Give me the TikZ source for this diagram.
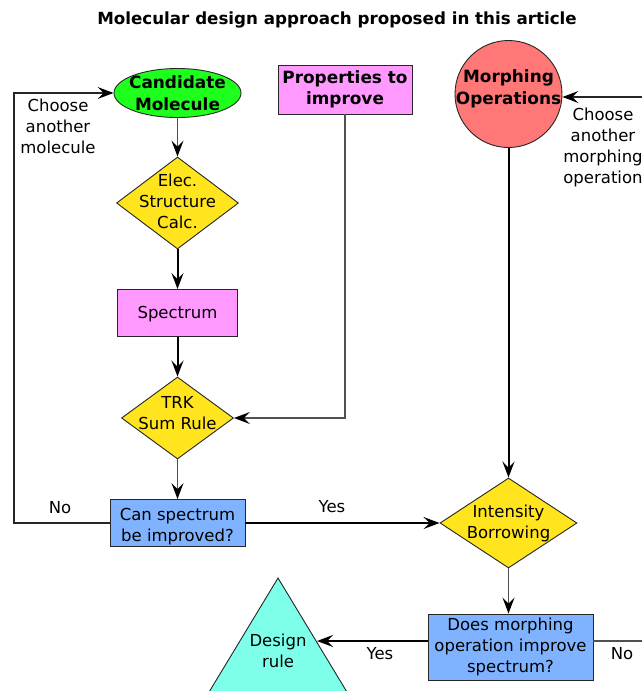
\documentclass[tikz,border=0pt]{standalone}
\usepackage{fontspec}
\setmainfont{DejaVu Sans}
\usetikzlibrary{shapes.geometric,arrows.meta}

\definecolor{candgreen}{RGB}{30,255,30}
\definecolor{calcyellow}{RGB}{255,228,30}
\definecolor{boxpink}{RGB}{255,153,255}
\definecolor{askblue}{RGB}{128,179,255}
\definecolor{morphred}{RGB}{255,119,119}
\definecolor{rulecyan}{RGB}{125,255,234}
\definecolor{wiregray}{RGB}{80,80,80}

\tikzset{
  outline/.style={draw=black!85, line width=0.9pt},
  txt/.style={font=\fontsize{16.5}{21}\selectfont, align=center, inner sep=0pt},
  btxt/.style={font=\fontsize{16.9}{21.5}\selectfont\bfseries, align=center, inner sep=0pt},
  tip/.style={-{Stealth[length=16pt,width=12pt,inset=6pt,color=black]}},
  thinwire/.style={draw=wiregray, line width=1.6pt},
  thickwire/.style={draw=black, line width=2pt},
  rectbox/.style={outline, rectangle, inner sep=0pt},
  diabox/.style={outline, diamond, fill=calcyellow, inner sep=0pt},
}

\begin{document}
\begin{tikzpicture}[x=1pt, y=-1pt]
\useasboundingbox (0,0) rectangle (642,691);

% title
\node[font=\fontsize{16.7}{20}\selectfont\bfseries] (title) at (337,20)
  {Molecular design approach proposed in this article};

% left column
\node[outline, ellipse, fill=candgreen, minimum width=127pt, minimum height=49pt, inner sep=0pt]
  (cand) at (177.5,93) {};
\node[btxt] at (cand) {Candidate\\Molecule};

\node[diabox, minimum width=122pt, minimum height=92pt] (elec) at (177.5,203) {};
\node[txt] at ([yshift=2pt]elec.center) {Elec.\\Structure\\Calc.};

\node[rectbox, fill=boxpink, minimum width=120pt, minimum height=47pt] (spec) at (177.5,313) {};
\node[txt] at ([yshift=-1.5pt]spec.center) {Spectrum};

\node[diabox, minimum width=112pt, minimum height=82pt] (trk) at (177.5,418) {};
\node[txt] at ([yshift=5pt]trk.center) {TRK\\Sum Rule};

\node[rectbox, fill=askblue, minimum width=135pt, minimum height=47pt] (can) at (177.5,523) {};
\node[txt] at ([yshift=-4pt]can.center) {Can spectrum\\be improved?};

% middle and right column
\node[rectbox, fill=boxpink, minimum width=134pt, minimum height=49pt] (prop) at (345,89.5) {};
\node[btxt] at (prop) {Properties to\\improve};

\node[outline, circle, fill=morphred, minimum size=107pt, inner sep=0pt] (morph) at (508.5,94) {};
\node[btxt] at ([yshift=5pt]morph.center) {Morphing\\Operations};

\node[diabox, minimum width=137pt, minimum height=90pt] (inten) at (508.5,523) {};
\node[txt] at (inten) {Intensity\\Borrowing};

\node[rectbox, fill=askblue, minimum width=165pt, minimum height=66pt] (does) at (510.5,647) {};
\node[txt] at (does) {Does morphing\\operation improve\\spectrum?};

% design rule triangle (runs past the lower edge)
\path[outline, fill=rulecyan] (278,578) -- (200,707) -- (356,707) -- cycle;
\node[txt] (rule) at (278,651) {Design\\rule};
\coordinate (ruleedge) at (317,641);

% connectors
\draw[thinwire, tip] (cand) -- (elec);
\draw[thickwire, tip] (elec) -- (spec);
\draw[thickwire, tip] (spec) -- (trk);
\draw[thinwire, tip] (trk) -- (can);
\draw[thinwire, tip] (prop.south) |- (trk.east);
\draw[thickwire, tip] (morph) -- (inten);
\draw[thickwire, tip] (can) -- (inten);
\draw[thinwire, tip] (inten.south) -- (inten.south |- does.north);
\draw[thickwire, tip] (does.west |- ruleedge) -- (ruleedge);

% loop back to a new molecule
\coordinate (leftrail) at (14,523);
\draw[draw=black!85, line width=1.4pt, tip] (can.west) -- (leftrail) |- (cand.west);

% loop back to a new morphing operation
\coordinate (rightin) at (645,97);
\coordinate (rightout) at (645,641);
\draw[draw=black!85, line width=1.4pt, tip] (rightin) -- (morph.east |- rightin);
\draw[thinwire] (does.east |- rightout) -- (rightout);

% edge labels
\node[txt] (lblchoose1) at (58,126) {Choose\\another\\molecule};
\node[txt] (lblchoose2) at (603,147.5) {Choose\\another\\morphing\\operation};
\node[txt] (lblno1) at (60,508) {No};
\node[txt] (lblyes1) at (332,507) {Yes};
\node[txt] (lblyes2) at (380,654) {Yes};
\node[txt] (lblno2) at (622,654) {No};
\end{tikzpicture}
\end{document}
